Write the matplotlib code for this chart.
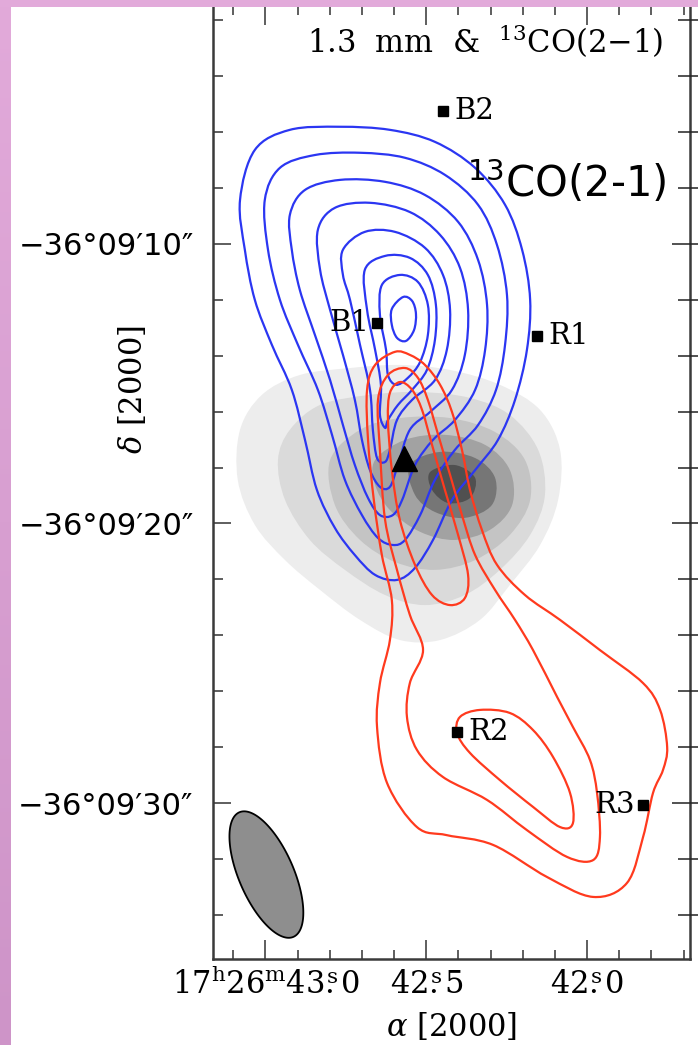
import numpy as np
import matplotlib.pyplot as plt
from matplotlib.path import Path
from matplotlib.patches import PathPatch, Rectangle
from matplotlib.ticker import FixedLocator

plt.rcParams['font.family'] = 'DejaVu Serif'
plt.rcParams['mathtext.fontset'] = 'dejavuserif'

# RA in seconds of time (17h26m..), Dec in arcsec below -36d09'
ra_major = [43.0, 42.5, 42.0]
ra_labels = [r"$17^{\mathrm{h}}26^{\mathrm{m}}43\overset{\mathrm{s}}{.}0$",
             r"$42\overset{\mathrm{s}}{.}5$",
             r"$42\overset{\mathrm{s}}{.}0$"]
ra_minor = [43.1, 42.9, 42.8, 42.7, 42.6, 42.4, 42.3, 42.2, 42.1, 41.9, 41.8, 41.7]
dec_major = [10, 20, 30]
dec_labels = ["\u221236\u00b009\u203210\u2033", "\u221236\u00b009\u203220\u2033",
              "\u221236\u00b009\u203230\u2033"]
dec_minor = [2, 4, 6, 8, 12, 14, 16, 18, 22, 24, 26, 28, 32, 34]

# 1.3 mm continuum, filled levels (outer -> inner)
cont_colors = ['#ededed', '#dadada', '#c4c4c4', '#a2a2a2', '#767676', '#505050']
cont_1 = [(43.011, 15.40), (42.893, 14.69), (42.737, 14.44), (42.582, 14.33), (42.426, 14.51),
          (42.271, 15.04), (42.146, 15.94), (42.084, 17.37), (42.090, 19.16), (42.146, 20.77),
          (42.240, 22.20), (42.333, 23.45), (42.457, 24.17), (42.582, 24.17), (42.706, 23.45),
          (42.830, 22.38), (42.939, 21.31), (43.033, 20.05), (43.086, 18.44), (43.079, 16.65)]
cont_2 = [(42.924, 16.65), (42.830, 15.76), (42.675, 15.40), (42.519, 15.30), (42.364, 15.51),
          (42.240, 16.12), (42.152, 17.37), (42.131, 18.98), (42.177, 20.41), (42.271, 21.66),
          (42.380, 22.56), (42.504, 22.92), (42.628, 22.56), (42.753, 21.66), (42.862, 20.59),
          (42.939, 19.16), (42.961, 17.73)]
cont_3 = [(42.799, 17.73), (42.706, 16.65), (42.582, 16.23), (42.426, 16.23), (42.286, 16.73),
          (42.193, 17.73), (42.177, 19.16), (42.240, 20.41), (42.348, 21.31), (42.473, 21.66),
          (42.597, 21.38), (42.706, 20.59), (42.784, 19.34)]
cont_4 = [(42.659, 17.73), (42.566, 17.01), (42.442, 16.83), (42.317, 17.19), (42.240, 18.09),
          (42.233, 19.34), (42.302, 20.23), (42.411, 20.59), (42.519, 20.30), (42.613, 19.52),
          (42.659, 18.62)]
cont_5 = [(42.551, 17.91), (42.457, 17.44), (42.348, 17.66), (42.286, 18.37), (42.296, 19.34),
          (42.380, 19.80), (42.473, 19.59), (42.535, 18.98)]
cont_6 = [(42.488, 18.16), (42.411, 17.91), (42.348, 18.37), (42.364, 19.09), (42.432, 19.27),
          (42.482, 18.80)]

# 13CO(2-1) blueshifted emission, outer -> inner
blue_1 = [(43.079, 8.43), (43.033, 6.64), (42.924, 5.92), (42.768, 5.81), (42.613, 5.92),
          (42.473, 6.35), (42.348, 7.28), (42.255, 8.60), (42.202, 10.21), (42.177, 12.00),
          (42.187, 13.79), (42.224, 15.58), (42.277, 17.01), (42.348, 18.09), (42.420, 19.16),
          (42.479, 20.59), (42.535, 21.59), (42.591, 22.02), (42.659, 21.84), (42.722, 21.13),
          (42.784, 20.16), (42.840, 18.80), (42.877, 17.01), (42.918, 15.22), (42.980, 13.61),
          (43.033, 12.00), (43.064, 10.21)]
blue_2 = [(43.002, 8.43), (42.955, 7.28), (42.846, 6.82), (42.706, 6.74), (42.566, 6.92),
          (42.442, 7.53), (42.339, 8.60), (42.280, 10.04), (42.249, 11.83), (42.255, 13.61),
          (42.283, 15.22), (42.339, 16.48), (42.411, 17.37), (42.473, 18.44), (42.519, 19.70),
          (42.566, 20.59), (42.604, 20.77), (42.650, 20.52), (42.700, 19.70), (42.753, 18.44),
          (42.793, 16.83), (42.837, 15.22), (42.899, 13.61), (42.955, 12.00), (42.992, 10.21)]
blue_3 = [(42.924, 8.96), (42.877, 8.07), (42.768, 7.71), (42.628, 7.78), (42.504, 8.25),
          (42.401, 9.21), (42.339, 10.57), (42.311, 12.18), (42.317, 13.79), (42.348, 15.22),
          (42.411, 16.30), (42.479, 17.01), (42.535, 17.91), (42.575, 19.16), (42.604, 19.70),
          (42.644, 19.70), (42.681, 19.09), (42.722, 17.91), (42.759, 16.48), (42.799, 14.87),
          (42.846, 13.26), (42.893, 11.65), (42.918, 10.21)]
blue_4 = [(42.837, 9.50), (42.784, 8.71), (42.675, 8.53), (42.551, 8.86), (42.457, 9.68),
          (42.395, 10.86), (42.370, 12.36), (42.380, 13.97), (42.420, 15.22), (42.488, 16.01),
          (42.551, 16.65), (42.588, 17.91), (42.613, 18.69), (42.644, 18.69), (42.675, 18.09),
          (42.700, 17.01), (42.722, 15.58), (42.759, 13.97), (42.799, 12.36), (42.830, 10.93)]
blue_5 = [(42.759, 10.21), (42.691, 9.57), (42.597, 9.57), (42.504, 10.14), (42.448, 11.11),
          (42.426, 12.36), (42.436, 13.79), (42.473, 14.87), (42.544, 15.58), (42.591, 16.30),
          (42.613, 17.37), (42.628, 17.80), (42.653, 17.66), (42.666, 16.65), (42.675, 15.22),
          (42.706, 13.61), (42.737, 12.00), (42.759, 11.11)]
blue_6 = [(42.691, 10.93), (42.628, 10.43), (42.551, 10.50), (42.495, 11.11), (42.470, 12.18),
          (42.473, 13.43), (42.498, 14.51), (42.544, 15.22), (42.588, 15.76), (42.619, 16.30),
          (42.628, 16.58), (42.644, 16.12), (42.641, 15.04), (42.659, 13.79), (42.684, 12.36)]
blue_7 = [(42.638, 11.47), (42.582, 11.11), (42.526, 11.36), (42.495, 12.18), (42.495, 13.26),
          (42.519, 14.22), (42.557, 14.79), (42.594, 15.04), (42.619, 14.69), (42.625, 13.79),
          (42.644, 12.54)]
blue_8 = [(42.572, 11.90), (42.544, 12.04), (42.532, 12.50), (42.538, 13.08), (42.563, 13.47),
          (42.591, 13.36), (42.607, 12.90), (42.607, 12.33)]

# 13CO(2-1) redshifted emission
red_1 = [(42.597, 13.86), (42.551, 13.97), (42.504, 14.33), (42.457, 15.04), (42.420, 16.01),
         (42.389, 17.37), (42.364, 18.80), (42.327, 20.23), (42.280, 21.48), (42.193, 22.56),
         (42.084, 23.45), (41.960, 24.53), (41.826, 25.71), (41.773, 26.67), (41.751, 28.00),
         (41.764, 28.82), (41.795, 29.64), (41.826, 31.22), (41.876, 32.86), (41.981, 33.36),
         (42.124, 32.65), (42.292, 31.50), (42.436, 31.15), (42.529, 30.86), (42.622, 29.28),
         (42.653, 27.28), (42.644, 25.71), (42.613, 24.17), (42.607, 22.74), (42.638, 21.13),
         (42.663, 19.16), (42.681, 17.01), (42.684, 15.22), (42.659, 14.33)]
red_2 = [(42.566, 14.44), (42.526, 14.79), (42.495, 15.58), (42.463, 16.83), (42.426, 18.26),
         (42.389, 19.70), (42.348, 21.13), (42.286, 22.38), (42.224, 23.45), (42.168, 24.53),
         (42.093, 26.21), (42.044, 27.28), (41.991, 28.46), (41.969, 29.64), (41.960, 31.22),
         (41.981, 32.04), (42.062, 31.93), (42.187, 30.97), (42.311, 29.89), (42.448, 29.07),
         (42.529, 28.10), (42.560, 26.92), (42.551, 25.71), (42.510, 24.53), (42.551, 23.27),
         (42.591, 21.66), (42.628, 19.87), (42.644, 17.37), (42.650, 15.58), (42.619, 14.69)]
red_3 = [(42.582, 14.94), (42.544, 15.22), (42.513, 15.94), (42.482, 17.19), (42.442, 18.80),
         (42.401, 20.41), (42.370, 21.84), (42.380, 22.67), (42.426, 22.92), (42.482, 22.56),
         (42.535, 21.48), (42.582, 19.87), (42.607, 18.09), (42.619, 16.30), (42.613, 15.33)]
red_4 = [(42.404, 27.50), (42.395, 26.92), (42.333, 26.67), (42.240, 26.78), (42.168, 27.39),
         (42.106, 28.35), (42.053, 29.64), (42.044, 30.72), (42.084, 30.86), (42.168, 30.14),
         (42.271, 29.18), (42.364, 28.21)]

# knots along the outflow
knot_names = ['B1', 'B2', 'R1', 'R2', 'R3']
knot_ra = [42.653, 42.448, 42.156, 42.405, 41.827]
knot_dec = [12.83, 5.24, 13.29, 27.45, 30.07]
knot_side = ['left', 'right', 'right', 'right', 'left']

# driving source
src_ra, src_dec = 42.569, 17.66

# synthesized beam: centre, major/minor (arcsec), PA (deg)
beam_ra, beam_dec = 42.997, 32.56
beam_major, beam_minor, beam_pa = 4.9, 2.05, 25.0
dec_deg = 36.15


def closed_curve(pts):
    # smooth closed curve through the vertices (Catmull-Rom as cubic Beziers)
    p = np.asarray(pts, float)
    n = len(p)
    verts = [p[0]]
    codes = [Path.MOVETO]
    for i in range(n):
        p0, p1, p2, p3 = p[i - 1], p[i], p[(i + 1) % n], p[(i + 2) % n]
        verts += [p1 + (p2 - p0) / 6, p2 - (p3 - p1) / 6, p2]
        codes += [Path.CURVE4] * 3
    verts.append(p[0])
    codes.append(Path.CLOSEPOLY)
    return Path(verts, codes)


fig = plt.figure(figsize=(6.98, 10.45), dpi=100)
ax = fig.add_axes([213 / 698, 86 / 1045, 477 / 698, 953 / 1045])

for pts, col in zip([cont_1, cont_2, cont_3, cont_4, cont_5, cont_6], cont_colors):
    ax.add_patch(PathPatch(closed_curve(pts), facecolor=col, edgecolor='none', zorder=1))

for pts in [blue_1, blue_2, blue_3, blue_4, blue_5, blue_6, blue_7, blue_8]:
    ax.add_patch(PathPatch(closed_curve(pts), facecolor='none', edgecolor='#2b36f2',
                           lw=1.6, zorder=3))
for pts in [red_1, red_2, red_3, red_4]:
    ax.add_patch(PathPatch(closed_curve(pts), facecolor='none', edgecolor='#ff3a1e',
                           lw=1.6, zorder=3))

# beam ellipse
t = np.linspace(0, 2 * np.pi, 200)
pa = np.radians(beam_pa)
east = beam_major / 2 * np.cos(t) * np.sin(pa) + beam_minor / 2 * np.sin(t) * np.cos(pa)
north = beam_major / 2 * np.cos(t) * np.cos(pa) - beam_minor / 2 * np.sin(t) * np.sin(pa)
bx = beam_ra + east / (15 * np.cos(np.radians(dec_deg)))
by = beam_dec - north
ax.fill(bx, by, facecolor='#8e8e8e', edgecolor='black', lw=1.3, zorder=4)

ax.plot(knot_ra, knot_dec, 's', color='black', ms=6.5, zorder=5)
for name, x, y, side in zip(knot_names, knot_ra, knot_dec, knot_side):
    dx = 8 if side == 'right' else -5.5
    ax.annotate(name, (x, y), xytext=(dx, 0), textcoords='offset points',
                ha='left' if side == 'right' else 'right', va='center',
                fontsize=21, zorder=6)
ax.plot(src_ra, src_dec, '^', color='black', ms=18, zorder=6)

ax.set_xlim(43.163, 41.680)
ax.set_ylim(35.58, 1.49)

ax.xaxis.set_major_locator(FixedLocator(ra_major))
ax.xaxis.set_minor_locator(FixedLocator(ra_minor))
ax.set_xticklabels(ra_labels, fontsize=22)
ax.yaxis.set_major_locator(FixedLocator(dec_major))
ax.yaxis.set_minor_locator(FixedLocator(dec_minor))
ax.set_yticklabels(dec_labels, fontsize=22, family='DejaVu Sans')

ax.tick_params(which='both', direction='in', top=True, right=False, width=1.1,
               color='#333333')
ax.tick_params(axis='x', which='major', length=13.5, pad=7)
ax.tick_params(axis='x', which='minor', length=6.5)
ax.tick_params(axis='y', which='major', length=13, pad=14)
ax.tick_params(axis='y', which='minor', length=7)
for s in ax.spines.values():
    s.set_linewidth(1.8)
    s.set_color('#3a3a3a')
ax.spines['top'].set_visible(False)

# right-hand ticks cross the frame
ax2 = ax.twinx()
ax2.set_ylim(ax.get_ylim())
ax2.yaxis.set_major_locator(FixedLocator(dec_major))
ax2.yaxis.set_minor_locator(FixedLocator(dec_minor))
ax2.tick_params(which='both', direction='inout', labelright=False, width=1.1, color='#222222')
ax2.tick_params(which='major', length=26)
ax2.tick_params(which='minor', length=18)
for s in ax2.spines.values():
    s.set_visible(False)

fig.text(452 / 698, 1 - 1027 / 1045, r"$\alpha$ [2000]", ha='center', va='center', fontsize=22)
fig.text(133 / 698, 1 - 390 / 1045, r"$\delta$ [2000]", ha='center', va='center',
         rotation=90, fontsize=22)
fig.text(663 / 698, 1 - 53 / 1045, "1.3  mm  &  $^{13}$CO(2\u22121)", ha='right',
         va='baseline', fontsize=22)
fig.text(467 / 698, 1 - 197 / 1045, r"$^{13}$CO(2-1)", ha='left', va='baseline', fontsize=30,
         family='DejaVu Sans', math_fontfamily='dejavusans')

# pink frame strips
band = fig.add_axes([0, 0, 11 / 698, 1])
top_rgb = np.array([226, 170, 218]) / 255
bot_rgb = np.array([206, 148, 200]) / 255
frac = np.linspace(0, 1, 256)[:, None, None]
band.imshow(top_rgb * (1 - frac) + bot_rgb * frac, aspect='auto', extent=[0, 1, 0, 1])
band.axis('off')
fig.patches.append(Rectangle((0, 1 - 7 / 1045), 1, 7 / 1045, transform=fig.transFigure,
                             facecolor='#e2aada', edgecolor='none', zorder=10))

fig.savefig('out.png', dpi=100)
